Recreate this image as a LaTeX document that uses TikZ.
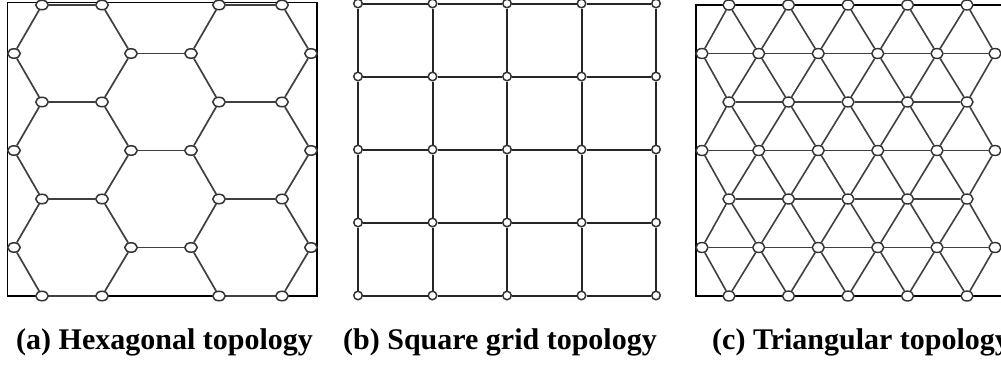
\documentclass[tikz,border=0pt]{standalone}
\usepackage{fontspec}
\setmainfont{Liberation Serif}
\usetikzlibrary{shapes.geometric}
\begin{document}
\begin{tikzpicture}[x=1pt,y=-1pt,
  frameline/.style={draw=black,line width=1.5pt},
  hexedge/.style={draw=black!75,line width=1.7pt},
  hexnode/.style={ellipse,draw=black!80,line width=1.5pt,fill=white,inner sep=0pt,minimum width=12.5pt,minimum height=9.5pt},
  sqedge/.style={draw=black!85,line width=2pt},
  sqnode/.style={circle,draw=black!80,line width=1.5pt,fill=white,inner sep=0pt,minimum size=8.5pt},
  triedge/.style={draw=black!75,line width=1.6pt},
  trinode/.style={ellipse,draw=black!80,line width=1.4pt,fill=white,inner sep=0pt,minimum width=12pt,minimum height=10pt},
  caption/.style={anchor=base west,inner sep=0pt,font=\bfseries\fontsize{30}{32}\selectfont}
]
\useasboundingbox (0,0) rectangle (1001,364);

% ---------- (a) hexagonal ----------
\draw[frameline] (7.5,2.5) rectangle (317,296);
\foreach \r in {0,2,4,6}
  \foreach \x [count=\c] in {42,102,219,282}
    \node[hexnode] (h-\r-\c) at (\x,{5+48.5*\r}) {};
\foreach \r in {1,3,5}
  \foreach \x [count=\c] in {14,131,191,311}
    \node[hexnode] (h-\r-\c) at (\x,{5+48.5*\r}) {};
\foreach \r in {0,2,4,6} {
  \draw[hexedge] (h-\r-1) -- (h-\r-2);
  \draw[hexedge] (h-\r-3) -- (h-\r-4);
}
\foreach \r in {1,3,5}
  \draw[hexedge] (h-\r-2) -- (h-\r-3);
\foreach \r in {0,...,5} {
  \pgfmathtruncatemacro{\s}{\r+1}
  \foreach \c in {1,...,4}
    \draw[hexedge] (h-\r-\c) -- (h-\s-\c);
}

% ---------- (b) square grid ----------
\foreach \x [count=\i] in {358,432.5,507,581.5,656}
  \foreach \y [count=\j] in {3.5,76.5,149.5,222.5,295.5}
    \node[sqnode] (s-\i-\j) at (\x,\y) {};
\foreach \i in {1,...,5}
  \foreach \j in {1,...,4} {
    \pgfmathtruncatemacro{\k}{\j+1}
    \draw[sqedge] (s-\i-\j) -- (s-\i-\k);
    \draw[sqedge] (s-\j-\i) -- (s-\k-\i);
  }

% ---------- (c) triangular ----------
\draw[frameline] (1001,5) -- (696,5) -- (696,296) -- (1001,296);
\foreach \r in {0,2,4,6}
  \foreach \x [count=\c] in {729,788.5,848,907.5,967}
    \node[trinode] (t-\r-\c) at (\x,{5+48.5*\r}) {};
\foreach \r in {1,3,5}
  \foreach \x [count=\c] in {702,758.75,818.25,877.75,937,995}
    \node[trinode] (t-\r-\c) at (\x,{5+48.5*\r}) {};
\foreach \r in {2,4}
  \foreach \c in {1,...,4} {
    \pgfmathtruncatemacro{\d}{\c+1}
    \draw[triedge] (t-\r-\c) -- (t-\r-\d);
  }
\foreach \r in {1,3,5}
  \foreach \c in {1,...,5} {
    \pgfmathtruncatemacro{\d}{\c+1}
    \draw[triedge] (t-\r-\c) -- (t-\r-\d);
  }
\foreach \r/\o in {0/1,2/1,2/3,4/3,4/5,6/5}
  \foreach \c in {1,...,5} {
    \pgfmathtruncatemacro{\d}{\c+1}
    \draw[triedge] (t-\r-\c) -- (t-\o-\c);
    \draw[triedge] (t-\r-\c) -- (t-\o-\d);
  }

% ---------- captions ----------
\node[caption] (capa) at (16,349) {(a) Hexagonal topology};
\node[caption] (capb) at (343,349) {(b) Square grid topology};
\node[caption] (capc) at (712,349) {(c) Triangular topology};
\end{tikzpicture}
\end{document}
